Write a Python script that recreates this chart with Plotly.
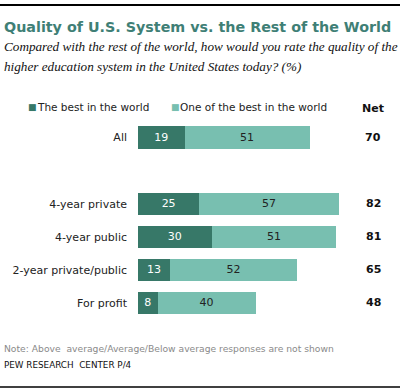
import plotly.graph_objects as go

categories = ["All", " ", "4-year private", "4-year public", "2-year private/public", "For profit"]
best = [19, None, 25, 30, 13, 8]
one_of_best = [51, None, 57, 51, 52, 40]
net = [70, None, 82, 81, 65, 48]
series_names = ["The best in the world", "One of the best in the world"]
colors = ["#377868", "#78bfb0"]

W, H = 405, 390
FONT = "DejaVu Sans"

fig = go.Figure()
fig.add_trace(go.Bar(
    y=categories, x=best, orientation="h", name=series_names[0],
    marker=dict(color=colors[0], line=dict(width=0)),
    text=[str(v) if v is not None else "" for v in best],
    textposition="inside", insidetextanchor="middle",
    textfont=dict(color="white", size=11, family=FONT),
    hoverinfo="skip",
))
fig.add_trace(go.Bar(
    y=categories, x=one_of_best, orientation="h", name=series_names[1],
    marker=dict(color=colors[1], line=dict(width=0)),
    text=[str(v) if v is not None else "" for v in one_of_best],
    textposition="inside", insidetextanchor="middle",
    textfont=dict(color="#222222", size=11, family=FONT),
    hoverinfo="skip",
))

x0_px = 138
px_per_unit = 2.45
row_top, row_bot = 121, 319.5

fig.update_layout(
    width=W, height=H, barmode="stack", bargap=0.33,
    margin=dict(l=0, r=0, t=0, b=0),
    paper_bgcolor="white", plot_bgcolor="white",
    showlegend=False,
    xaxis=dict(domain=[x0_px / W, 1], range=[0, (W - x0_px) / px_per_unit],
               visible=False, fixedrange=True, automargin=False),
    yaxis=dict(domain=[1 - row_bot / H, 1 - row_top / H],
               categoryorder="array", categoryarray=categories,
               range=[len(categories) - 0.5, -0.5], automargin=False,
               showgrid=False, zeroline=False, showline=False,
               ticks="", ticklabelstandoff=10, fixedrange=True,
               tickfont=dict(family=FONT, size=11, color="#222222")),
    font=dict(family=FONT),
)

ann = []
# Title
ann.append(dict(text="<b>Quality of U.S. System vs. the Rest of the World</b>",
                x=2 / W, y=1 - 27 / H, xref="paper", yref="paper",
                xanchor="left", yanchor="middle", showarrow=False,
                font=dict(family=FONT, size=14.3, color="#3f7f76")))
# Subtitle
ann.append(dict(text="<i>Compared with the rest of the world, how would you rate the quality of the</i>",
                x=2 / W, y=1 - 46 / H, xref="paper", yref="paper",
                xanchor="left", yanchor="middle", showarrow=False,
                font=dict(family="Liberation Serif", size=13.2, color="#111111")))
ann.append(dict(text="<i>higher education system in the United States today? (%)</i>",
                x=2 / W, y=1 - 66 / H, xref="paper", yref="paper",
                xanchor="left", yanchor="middle", showarrow=False,
                font=dict(family="Liberation Serif", size=13.2, color="#111111")))
# Legend
leg_x = [27, 170]
for name, col, lx in zip(series_names, colors, leg_x):
    ann.append(dict(text="■", x=(lx - 1) / W, y=1 - 107 / H, xref="paper", yref="paper",
                    xanchor="left", yanchor="middle", showarrow=False,
                    font=dict(family=FONT, size=9, color=col)))
    ann.append(dict(text=name, x=(lx + 8) / W, y=1 - 107 / H, xref="paper", yref="paper",
                    xanchor="left", yanchor="middle", showarrow=False,
                    font=dict(family=FONT, size=10.5, color="#222222")))
# Net header
ann.append(dict(text="<b>Net</b>", x=373 / W, y=1 - 108 / H, xref="paper", yref="paper",
                xanchor="center", yanchor="middle", showarrow=False,
                font=dict(family=FONT, size=11, color="#111111")))
for c, n in zip(categories, net):
    if n is None:
        continue
    ann.append(dict(text=f"<b>{n}</b>", x=373 / W, y=c, xref="paper", yref="y",
                    xanchor="center", yanchor="middle", showarrow=False,
                    font=dict(family=FONT, size=11, color="#111111")))
# Note and source
ann.append(dict(text="Note: Above  average/Average/Below average responses are not shown",
                x=2 / W, y=1 - 348 / H, xref="paper", yref="paper",
                xanchor="left", yanchor="middle", showarrow=False,
                font=dict(family=FONT, size=9.2, color="#8a8a8a")))
ann.append(dict(text="PEW RESEARCH  CENTER P/4",
                x=2 / W, y=1 - 365 / H, xref="paper", yref="paper",
                xanchor="left", yanchor="middle", showarrow=False,
                font=dict(family=FONT, size=8.8, color="#111111")))
fig.update_layout(annotations=ann)

fig.update_layout(shapes=[
    dict(type="line", xref="paper", yref="paper", x0=0, x1=400 / W,
         y0=1 - 5 / H, y1=1 - 5 / H, line=dict(color="black", width=2), layer="above"),
    dict(type="line", xref="paper", yref="paper", x0=0, x1=400 / W,
         y0=1 - 387 / H, y1=1 - 387 / H, line=dict(color="black", width=1.5)),
])

fig.write_html("out.html", config={"displayModeBar": False},
               post_script="document.body.style.margin='0';document.body.style.overflow='hidden';window.scrollTo(0,0);")
